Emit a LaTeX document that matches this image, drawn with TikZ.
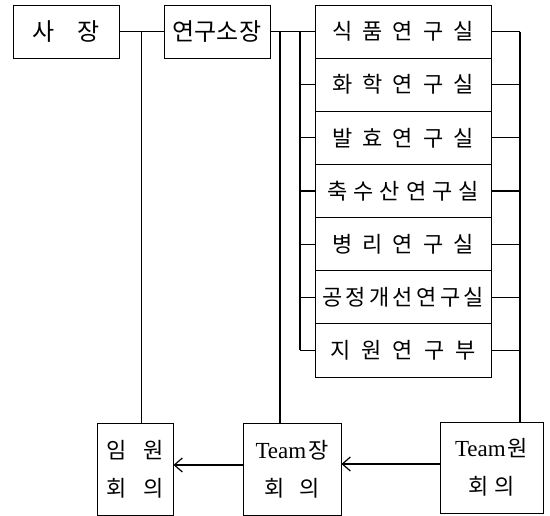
\documentclass[tikz,border=0pt]{standalone}
\usepackage{fontspec}
\setmainfont{Liberation Serif}
\newfontfamily\kr{Noto Sans CJK KR}
\usetikzlibrary{arrows.meta,calc}
\begin{document}
\begin{tikzpicture}[x=1pt,y=-1pt,
  box/.style={draw,line width=0.9pt,rectangle,inner sep=0pt},
  topbox/.style={box,minimum width=106pt,minimum height=53pt,font=\kr\fontsize{24}{24}\selectfont},
  labbox/.style={box,minimum width=176pt,minimum height=53.14pt,font=\kr\fontsize{22}{22}\selectfont},
  botbox/.style={box,align=center,font=\kr\fontsize{22}{38}\selectfont},
  conn/.style={line width=1.2pt},
  arr/.style={line width=1.2pt,-{Straight Barb[length=8pt,width=14pt,line width=1.2pt]}}]
\useasboundingbox (0,0) rectangle (550,516);

% top boxes
\node[topbox] (sajang) at (66,31.57) {\makebox[68pt][s]{사 장}};
\node[topbox] (yeon) at (217,31.57) {연구소장};

% lab boxes
\node[labbox] (lab1) at (403,31.57) {\makebox[142pt][s]{식 품 연 구 실}};
\node[labbox] (lab2) at (403,84.71) {\makebox[142pt][s]{화 학 연 구 실}};
\node[labbox] (lab3) at (403,137.86) {\makebox[142pt][s]{발 효 연 구 실}};
\node[labbox] (lab4) at (403,191.00) {\makebox[152pt][s]{축 수 산 연 구 실}};
\node[labbox] (lab5) at (403,244.14) {\makebox[142pt][s]{병 리 연 구 실}};
\node[labbox] (lab6) at (403,297.29) {\makebox[162pt][s]{공 정 개 선 연 구 실}};
\node[labbox] (lab7) at (403,350.43) {\makebox[146pt][s]{지 원 연 구 부}};

% bottom boxes
\node[botbox,minimum width=76pt,minimum height=92pt] (imwon) at (135,469)
  {\makebox[57pt][s]{임 원}\\\makebox[57pt][s]{회 의}};
\node[botbox,minimum width=98pt,minimum height=92pt] (tjang) at (292,469)
  {{\rmfamily\fontsize{23}{38}\selectfont Team}\hspace{2pt}장\\\makebox[55pt][s]{회 의}};
\node[botbox,minimum width=103pt,minimum height=91pt] (twon) at (491.5,467.5)
  {{\rmfamily\fontsize{23}{38}\selectfont Team}\hspace{2pt}원\\\makebox[47pt][s]{회 의}};

% helper coordinates
\coordinate (lb) at (300,0);
\coordinate (rb) at (520,0);
\coordinate (jm) at ($(sajang.east)!0.5!(yeon.west)$);
\coordinate (jy) at ($(yeon.east)+(9.5,0)$);

% connectors
\draw[conn] (sajang.east) -- (yeon.west);
\draw[conn] (jm) -- (jm |- imwon.north);
\draw[conn] (yeon.east) -- (lab1.west);
\draw[conn] (jy) -- (jy |- tjang.north);
\draw[conn] (lab1.west -| lb) -- (lab7.west -| lb);
\foreach \i in {2,...,7}{
  \draw[conn] (lab\i.west -| lb) -- (lab\i.west);
}
\foreach \i in {1,...,7}{
  \draw[conn] (lab\i.east) -- (lab\i.east -| rb);
}
\draw[conn] (lab1.east -| rb) -- (rb |- twon.north);

% arrows
\draw[arr] ([yshift=3.5pt]twon.west) -- ([yshift=3.5pt]twon.west -| tjang.east);
\draw[arr] ([yshift=4pt]tjang.west) -- ([yshift=4pt]tjang.west -| imwon.east);
\end{tikzpicture}
\end{document}
